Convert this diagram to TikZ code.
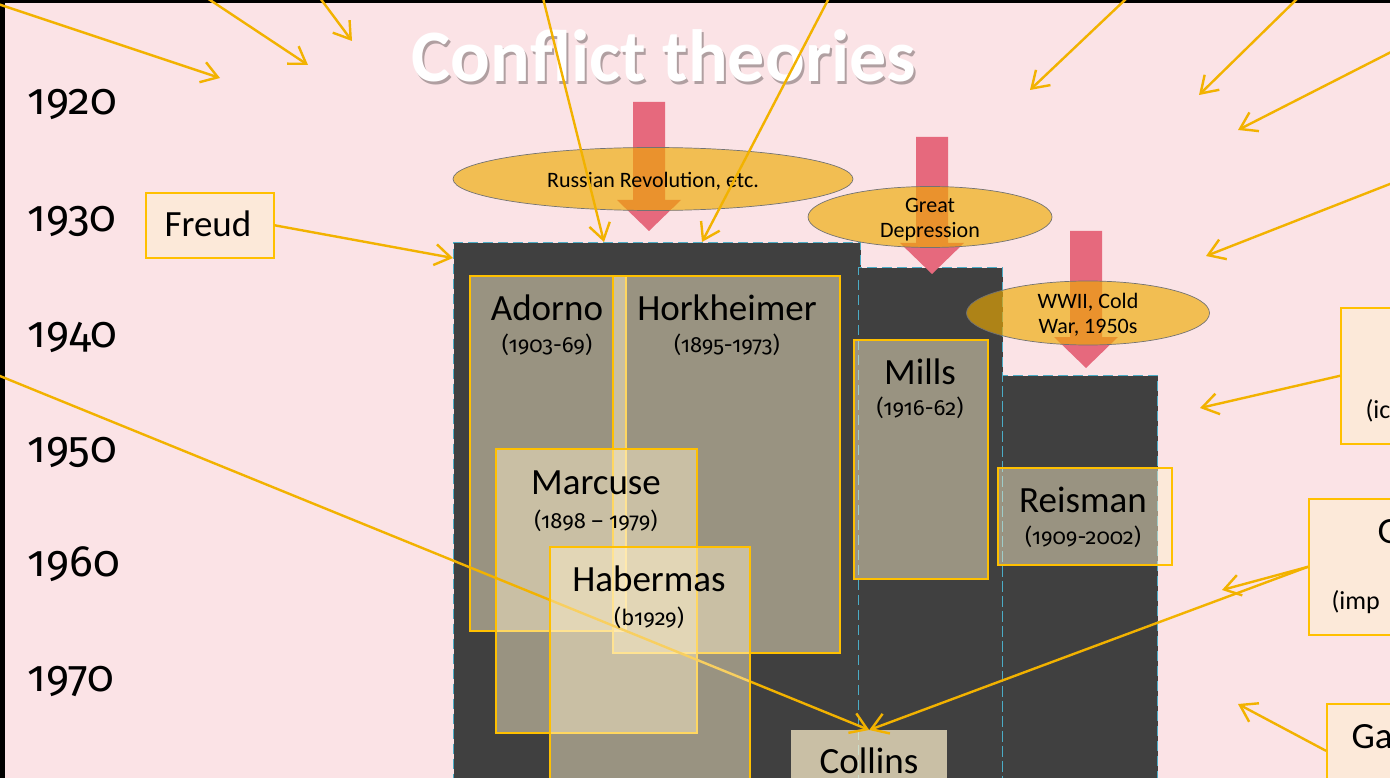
\documentclass[tikz,border=0pt]{standalone}
\usepackage{fontspec}
\setmainfont{Carlito}
\newfontfamily\figfamily{Fira Sans}[Numbers=OldStyle]
\usetikzlibrary{arrows.meta,shapes.geometric}

\definecolor{slidebg}{RGB}{251,227,230}
\definecolor{gold}{RGB}{242,178,0}
\definecolor{boxgold}{RGB}{255,192,0}
\definecolor{peach}{RGB}{255,241,204}
\definecolor{darkcol}{RGB}{64,64,64}
\definecolor{tealdash}{RGB}{75,172,198}
\definecolor{eventfill}{RGB}{237,170,0}
\definecolor{shockpink}{RGB}{230,105,125}
\colorlet{glow}{black!30!slidebg}

\newcommand\titlefont{\fontsize{74}{80}\selectfont\bfseries}
\newcommand\yearfont{\figfamily\fontsize{44}{50}\selectfont}
\newcommand\namefont{\fontsize{37}{42}\selectfont}
\newcommand\datefont{\figfamily\fontsize{22}{26}\selectfont}
\newcommand\eventfont{\fontsize{22}{25}\selectfont}
\newcommand\sidefont{\fontsize{26}{30}\selectfont}
% white heading over a soft grey shadow
\newcommand\shadowtext[1]{%
  \makebox[0pt][l]{\hspace{2pt}\raisebox{-2.5pt}{\color{glow}#1}}%
  {\color{white}#1}}

\begin{document}
\begin{tikzpicture}[x=1pt,y=-1pt,>={Straight Barb[length=16pt,width=21pt]},
    theorist/.style={draw=boxgold,line width=1.6pt,fill=peach,fill opacity=0.47,draw opacity=1,anchor=north west,inner sep=0pt},
    era/.style={fill=darkcol,draw=tealdash,line width=1.3pt,dash pattern=on 10pt off 5pt,anchor=north west,inner sep=0pt},
    event/.style={ellipse,fill=eventfill,fill opacity=0.64,draw=black!55,draw opacity=1,line width=0.7pt,inner sep=0pt},
    eventtxt/.style={align=center,font=\eventfont},
    nametxt/.style={anchor=base,font=\namefont},
    datetxt/.style={anchor=base,font=\datefont},
    yeartxt/.style={anchor=base west,font=\yearfont},
    sidetxt/.style={anchor=base west},
    link/.style={->,draw=gold,line width=2.4pt},
    shock/.style={fill=shockpink}]

    \useasboundingbox (0,0) rectangle (1390,778);
    \clip (0,0) rectangle (1390,778);

    % Slide background and frame edges
    \fill [slidebg] (0,0) rectangle (1390,778);
    \fill [black] (0,0) rectangle (1390,3);
    \fill [black] (0,0) rectangle (5,778);

    % Decades
    \node [yeartxt] (y1920) at (24,115) {1920};
    \node [yeartxt] (y1930) at (24,232) {1930};
    \node [yeartxt] (y1940) at (24,347) {1940};
    \node [yeartxt] (y1950) at (24,462) {1950};
    \node [yeartxt] (y1960) at (24,576) {1960};
    \node [yeartxt] (y1970) at (24,691) {1970};

    % Dark eras (dashed)
    \node [era,minimum width=407pt,minimum height=560pt] (era1) at (453,242) {};
    \node [era,minimum width=144pt,minimum height=540pt] (era2) at (858,267) {};
    \node [era,minimum width=155pt,minimum height=430pt] (era3) at (1002,375) {};

    % Frankfurt school boxes
    \node [theorist,minimum width=156pt,minimum height=355pt] (adorno) at (469,275) {};
    \node [theorist,minimum width=227pt,minimum height=377pt] (horkheimer) at (612,275) {};
    \node [theorist,minimum width=201pt,minimum height=284pt] (marcuse) at (495,448) {};

    % Collins box and the long arrow from the left
    \node [fill=peach,fill opacity=0.72,anchor=north west,inner sep=0pt,minimum width=156pt,minimum height=70pt] (collins) at (791,730) {};
    \coordinate (left-in) at (-5,374);
    \draw [link] (left-in) -- (collins.north);

    \node [theorist,minimum width=200pt,minimum height=260pt] (habermas) at (549,546) {};

    % American boxes
    \node [theorist,minimum width=134pt,minimum height=239pt] (mills) at (853,339) {};
    \node [theorist,minimum width=174pt,minimum height=97pt] (reisman) at (997,467) {};

    % Names and dates
    \node [nametxt] (adorno-t) at (547,320) {Adorno};
    \node [datetxt] (adorno-d) at (547,352) {(1903-69)};
    \node [nametxt] (horkheimer-t) at (727,320) {Horkheimer};
    \node [datetxt] (horkheimer-d) at (727,352) {(1895-1973)};
    \node [nametxt] (marcuse-t) at (596,494) {Marcuse};
    \node [datetxt] (marcuse-d) at (596,528) {(1898 \textendash\ 1979)};
    \node [nametxt] (habermas-t) at (649,591) {Habermas};
    \node [datetxt] (habermas-d) at (649,625) {(b1929)};
    \node [nametxt] (mills-t) at (920,384) {Mills};
    \node [datetxt] (mills-d) at (920,415) {(1916-62)};
    \node [nametxt] (reisman-t) at (1083,512) {Reisman};
    \node [datetxt] (reisman-d) at (1083,544) {(1909-2002)};
    \node [nametxt] (collins-t) at (869,773) {Collins};

    % Freud
    \node [theorist,minimum width=128pt,minimum height=65pt] (freud) at (145,192) {};
    \node [nametxt] (freud-t) at (208,237) {Freud};

    % Boxes cut by the right edge
    \node [theorist,minimum width=100pt,minimum height=136pt] (sideA) at (1340,307) {};
    \node [sidetxt,font=\sidefont] (sideA-t) at (1362,418) {(ic};
    \node [theorist,minimum width=100pt,minimum height=136pt] (sideB) at (1308,498) {};
    \node [sidetxt,font=\namefont] (sideB-t) at (1374,543) {G};
    \node [sidetxt,font=\sidefont] (sideB-d) at (1328,609) {(imp};
    \node [theorist,minimum width=100pt,minimum height=94pt] (sideC) at (1326,703) {};
    \node [sidetxt,font=\namefont] (sideC-t) at (1348,748) {Ga};

    % Historical shocks (pink block arrows)
    \fill [shock] (633,102) -- (665,102) -- (665,200) -- (681,200) -- (649,231) -- (617,200) -- (633,200) -- cycle;
    \fill [shock] (916,137) -- (948,137) -- (948,243) -- (964,243) -- (932,274) -- (900,243) -- (916,243) -- cycle;
    \fill [shock] (1070,231) -- (1102,231) -- (1102,337) -- (1118,337) -- (1086,368) -- (1054,337) -- (1070,337) -- cycle;

    % Events
    \node [event,minimum width=400pt,minimum height=63pt] (revolt) at (653,179) {};
    \node [eventtxt,anchor=base] (revolt-t) at (653,188) {Russian Revolution, etc.};
    \node [event,minimum width=244pt,minimum height=61pt] (slump) at (930,217) {};
    \node [eventtxt] (slump-t) at (930,220) {Great\\Depression};
    \node [event,minimum width=243pt,minimum height=64pt] (wwii) at (1088,313) {};
    \node [eventtxt] (wwii-t) at (1088,315) {WWII, Cold\\War, 1950s};

    % Title
    \node [font=\titlefont,anchor=base] (title) at (664,82) {\shadowtext{Conflict theories}};

    % Incoming influences
    \coordinate (in1) at (-5,3);     \coordinate (to1) at (220,78);
    \coordinate (in2) at (207,-2);   \coordinate (to2) at (308,65);
    \coordinate (in3) at (320,-2);   \coordinate (to3) at (352,41);
    \coordinate (in4) at (543,-2);   \coordinate (to4) at (604,242);
    \coordinate (in5) at (829,-2);   \coordinate (to5) at (702,242);
    \coordinate (in6) at (1127,-2);  \coordinate (to6) at (1030,90);
    \coordinate (in7) at (1298,-2);  \coordinate (to7) at (1199,95);
    \coordinate (in8) at (1395,50);  \coordinate (to8) at (1238,130);
    \coordinate (in9) at (1395,182); \coordinate (to9) at (1206,256);
    \draw [link] (in1) -- (to1);
    \draw [link] (in2) -- (to2);
    \draw [link] (in3) -- (to3);
    \draw [link] (in4) -- (to4);
    \draw [link] (in5) -- (to5);
    \draw [link] (in6) -- (to6);
    \draw [link] (in7) -- (to7);
    \draw [link] (in8) -- (to8);
    \draw [link] (in9) -- (to9);

    % Links from the boxes
    \coordinate (freud-to) at (453,258);
    \coordinate (sideA-to) at (1200,408);
    \coordinate (sideB-to) at (1222,590);
    \coordinate (sideC-to) at (1238,704);
    \draw [link] (freud.east) -- (freud-to);
    \draw [link] (sideA.west) -- (sideA-to);
    \draw [link] (sideB.west) -- (sideB-to);
    \draw [link] (sideB.west) -- (collins.north);
    \draw [link] (sideC.west) -- (sideC-to);

\end{tikzpicture}
\end{document}
